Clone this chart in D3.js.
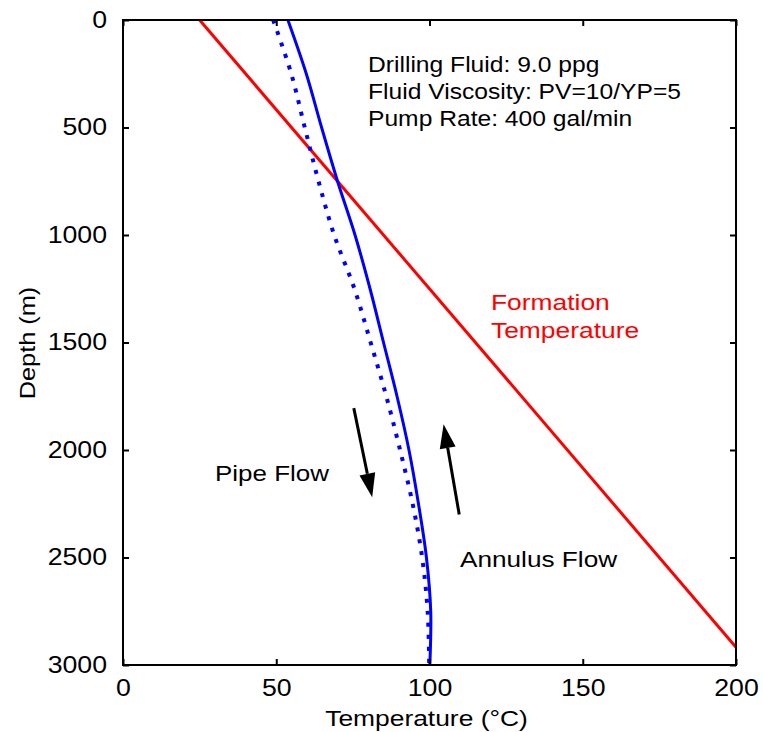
<html><head>
<script src="https://d3js.org/d3.v7.min.js"></script>
<style>
  body { margin: 0; background: #fff; }
  text { font-family: "Liberation Sans", Arial, sans-serif; }
</style>
</head>
<body>
<svg id="chart" width="763" height="732"></svg>
<script>
// depth in metres, temperatures in degC
let depths   = [0, 250, 500, 750, 1000, 1250, 1500, 1750, 2000, 2250, 2500, 2750, 3000];
let annulusT = [53.8, 59.8, 64.8, 70.0, 75.7, 80.6, 85.0, 89.4, 93.3, 96.4, 99.0, 100.4, 100.1];
let pipeT    = [49.0, 54.9, 59.3, 63.8, 68.9, 75.5, 80.8, 85.9, 90.4, 94.5, 97.6, 99.4, 99.9];
let formationDepth = [0, 2917];
let formationT     = [25, 200];

let xTicks = [0, 50, 100, 150, 200];
let yTicks = [0, 500, 1000, 1500, 2000, 2500, 3000];

let infoLines = ["Drilling Fluid: 9.0 ppg", "Fluid Viscosity: PV=10/YP=5", "Pump Rate: 400 gal/min"];
let formationLabel = ["Formation", "Temperature"];

let svg = d3.select("svg#chart");
let margin = {"top": 20, "right": 27, "bottom": 67, "left": 123};
let chartWidth = 763 - margin.left - margin.right;
let chartHeight = 732 - margin.top - margin.bottom;

let xScale = d3.scaleLinear().domain([0, 200]).range([0, chartWidth]);
let yScale = d3.scaleLinear().domain([0, 3000]).range([0, chartHeight]);

// the figure's font is a little wider than Liberation Sans, so stretch text along its baseline
function label(parent, x, y, s, size, k, anchor) {
    return parent.append("text")
        .attr("transform", "translate(" + x + "," + y + ") scale(" + k + ",1)")
        .attr("font-size", size)
        .attr("text-anchor", anchor || "start")
        .text(s);
}

let g = svg.append("g")
    .attr("transform", "translate(" + margin.left + "," + margin.top + ")");

// lines
let line = d3.line().x(d => xScale(d[0])).y(d => yScale(d[1])).curve(d3.curveCatmullRom);

g.append("path")
    .datum(formationT.map((t, i) => [t, formationDepth[i]]))
    .attr("d", line)
    .attr("fill", "none").attr("stroke", "#ff0000").attr("stroke-width", 3);

g.append("path")
    .datum(pipeT.map((t, i) => [t, depths[i]]))
    .attr("d", line)
    .attr("fill", "none").attr("stroke", "#0000ff").attr("stroke-width", 4)
    .attr("stroke-dasharray", "4,8");

g.append("path")
    .datum(annulusT.map((t, i) => [t, depths[i]]))
    .attr("d", line)
    .attr("fill", "none").attr("stroke", "#0000ff").attr("stroke-width", 3);

// axes, ticks pointing inward on all four sides
let fmt = d3.format("d");
let tickK = 1.16;
g.append("g").attr("class", "xaxis")
    .attr("transform", "translate(0," + chartHeight + ")")
    .call(d3.axisBottom(xScale).tickValues(xTicks).tickFormat(fmt).tickSizeInner(-6).tickSizeOuter(0).tickPadding(15));
g.append("g")
    .call(d3.axisTop(xScale).tickValues(xTicks).tickFormat("").tickSizeInner(-6).tickSizeOuter(0));
g.append("g").attr("class", "yaxis")
    .call(d3.axisLeft(yScale).tickValues(yTicks).tickFormat(fmt).tickSizeInner(-6).tickSizeOuter(0).tickPadding(16));
g.append("g")
    .attr("transform", "translate(" + chartWidth + ",0)")
    .call(d3.axisRight(yScale).tickValues(yTicks).tickFormat("").tickSizeInner(-6).tickSizeOuter(0));

g.selectAll(".domain").remove();
g.selectAll(".tick line").attr("stroke", "#000").attr("stroke-width", 2);
g.selectAll(".tick text").attr("font-size", 23).attr("fill", "#000")
    .style("font-family", "'Liberation Sans', Arial, sans-serif")
    .attr("transform", "scale(" + tickK + ",1)");
g.selectAll(".yaxis .tick text").attr("x", -16 / tickK);

g.append("rect")
    .attr("width", chartWidth).attr("height", chartHeight)
    .attr("fill", "none").attr("stroke", "#000").attr("stroke-width", 2);

// axis titles
label(svg, margin.left + chartWidth / 2 - 3, 726, "Temperature (\u00B0C)", 22, 1.2, "middle");
svg.append("text")
    .attr("transform", "translate(35," + (margin.top + 323) + ") rotate(-90) scale(1.15,1)")
    .attr("text-anchor", "middle").attr("font-size", 22)
    .text("Depth (m)");

// annotations
infoLines.forEach((s, i) => label(g, 245, 52 + i * 27, s, 22, 1.12));

formationLabel.forEach((s, i) => label(g, 368, 290 + i * 28, s, 22, 1.2)
    .attr("fill", "#ff0000"));

label(g, 92, 461, "Pipe Flow", 22, 1.18);
label(g, 337, 547, "Annulus Flow", 22, 1.19);

// flow arrows (temperature, depth)
let arrows = [
    {from: [75.3, 1805], to: [81.3, 2220]},
    {from: [109.7, 2300], to: [104.6, 1880]}
];
arrows.forEach(a => {
    let x1 = xScale(a.from[0]), y1 = yScale(a.from[1]);
    let x2 = xScale(a.to[0]), y2 = yScale(a.to[1]);
    let ang = Math.atan2(y2 - y1, x2 - x1);
    let headLen = 24, headW = 8;
    let bx = x2 - headLen * Math.cos(ang), by = y2 - headLen * Math.sin(ang);
    g.append("line")
        .attr("x1", x1).attr("y1", y1).attr("x2", bx).attr("y2", by)
        .attr("stroke", "#000").attr("stroke-width", 3);
    let px = -Math.sin(ang) * headW, py = Math.cos(ang) * headW;
    g.append("path")
        .attr("d", "M" + x2 + "," + y2 + "L" + (bx + px) + "," + (by + py) + "L" + (bx - px) + "," + (by - py) + "Z")
        .attr("fill", "#000");
});
</script>
</body>
</html>
